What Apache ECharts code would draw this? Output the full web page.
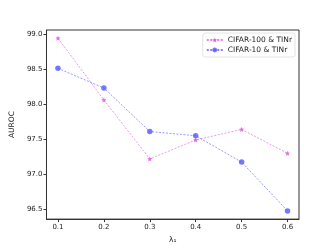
<!DOCTYPE html>
<html><head><meta charset="utf-8">
<script src="https://cdn.jsdelivr.net/npm/echarts@6/dist/echarts.min.js"></script>
<style>html,body{margin:0;padding:0;background:#fff}#c{width:332px;height:249px}</style>
</head><body><div id="c"></div>
<script>
const lambdas = [0.1, 0.2, 0.3, 0.4, 0.5, 0.6];
const cifar100 = [98.94, 98.06, 97.22, 97.49, 97.64, 97.30];
const cifar10 = [98.51, 98.23, 97.61, 97.55, 97.175, 96.48];
const xTicks = [0.1, 0.2, 0.3, 0.4, 0.5, 0.6];
const yTicks = [96.5, 97.0, 97.5, 98.0, 98.5, 99.0];
const seriesNames = ['CIFAR-100 & TINr', 'CIFAR-10 & TINr'];

const font = 'DejaVu Sans';
const chart = echarts.init(document.getElementById('c'), null, {renderer: 'canvas'});
const pair = (xs, ys) => xs.map((x, i) => [x, ys[i]]);
chart.setOption({
  animation: false,
  backgroundColor: '#fff',
  grid: {left: 41, right: 33, top: 30, bottom: 28, show: true, borderColor: '#333', borderWidth: 1, containLabel: false},
  legend: {
    right: 37, top: 33, orient: 'vertical', itemGap: 2, itemWidth: 16, itemHeight: 6,
    borderColor: '#ddd', borderWidth: 0.8, borderRadius: 2, padding: [3, 3, 3, 3],
    textStyle: {fontFamily: font, fontSize: 7.5, color: '#222'},
    data: seriesNames
  },
  xAxis: {
    type: 'value', min: 0.075, max: 0.625,
    name: 'λ₁', nameLocation: 'middle', nameGap: 16,
    nameTextStyle: {fontFamily: font, fontSize: 7.5, color: '#222'},
    axisLine: {show: true, lineStyle: {color: '#333', width: 1}},
    axisTick: {show: true, length: 3, lineStyle: {color: '#333'}, customValues: xTicks},
    axisLabel: {fontFamily: font, fontSize: 7, color: '#222', margin: 5, customValues: xTicks, formatter: v => v.toFixed(1)},
    splitLine: {show: false}
  },
  yAxis: {
    type: 'value', min: 96.363, max: 99.056,
    name: 'AUROC', nameLocation: 'middle', nameGap: 26, nameRotate: 90,
    nameTextStyle: {fontFamily: font, fontSize: 7.5, color: '#222'},
    axisLine: {show: true, lineStyle: {color: '#333', width: 1}},
    axisTick: {show: true, length: 3, lineStyle: {color: '#333'}, customValues: yTicks},
    axisLabel: {fontFamily: font, fontSize: 7, color: '#222', margin: 4, customValues: yTicks, formatter: v => v.toFixed(1)},
    splitLine: {show: false}
  },
  series: [
    {
      name: seriesNames[0], type: 'line', data: pair(lambdas, cifar100),
      symbol: 'path://M0,-10 L2.9,-4 L9.5,-3.1 L4.7,1.5 L5.9,8.1 L0,5 L-5.9,8.1 L-4.7,1.5 L-9.5,-3.1 L-2.9,-4 Z',
      symbolSize: 5,
      itemStyle: {color: '#dd55dd', opacity: 0.8},
      lineStyle: {color: '#dd55dd', width: 0.8, type: [2, 1.5], opacity: 0.75}
    },
    {
      name: seriesNames[1], type: 'line', data: pair(lambdas, cifar10),
      symbol: 'circle', symbolSize: 5.5,
      itemStyle: {color: '#5555ff', opacity: 0.8},
      lineStyle: {color: '#5555ff', width: 0.8, type: [2, 1.5], opacity: 0.75}
    }
  ]
});
</script></body></html>
